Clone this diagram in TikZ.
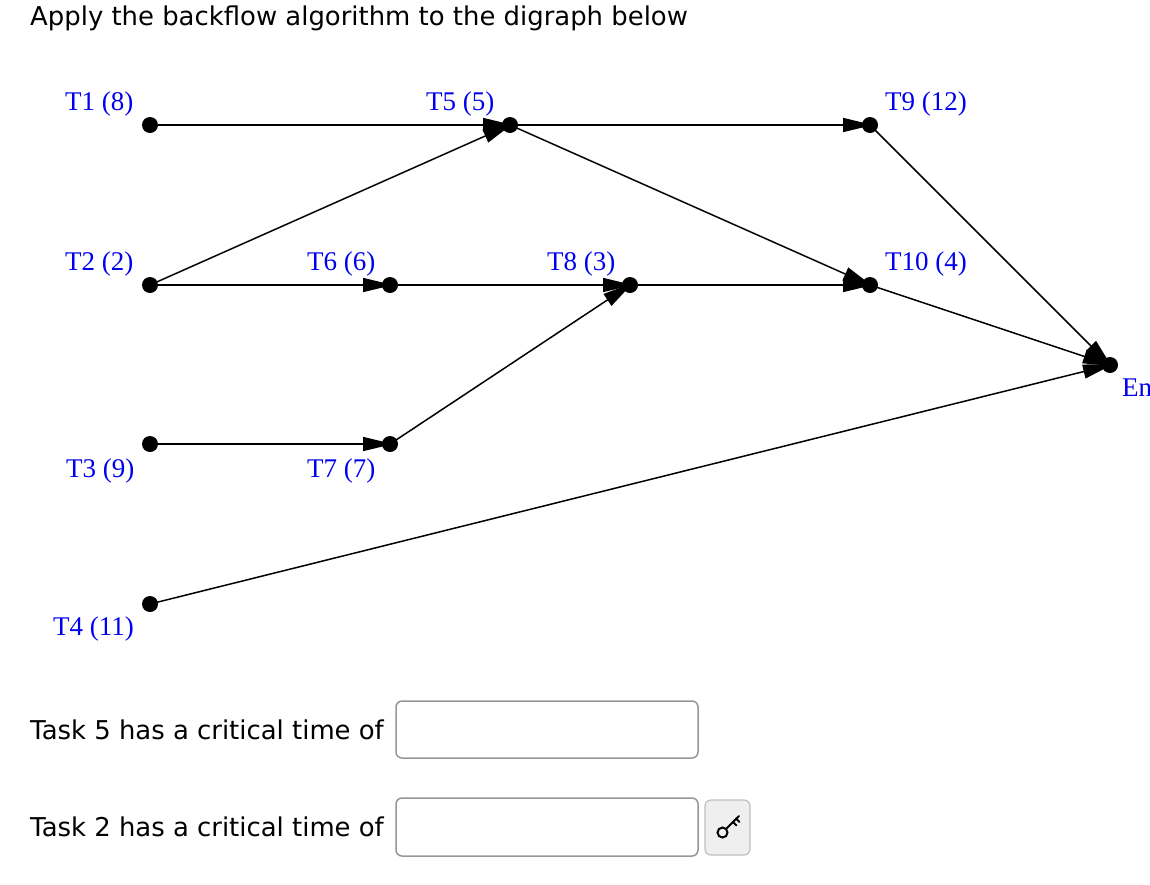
\documentclass[tikz,border=0pt]{standalone}
\usepackage{fontspec}
\setmainfont{Liberation Serif}
\newfontfamily\uifont{DejaVu Sans}
\usetikzlibrary{arrows.meta}
\definecolor{lblblue}{RGB}{0,0,238}
\definecolor{boxgray}{RGB}{150,150,150}
\definecolor{btnfill}{RGB}{239,239,239}
\definecolor{btnborder}{RGB}{190,190,190}
\begin{document}
\begin{tikzpicture}[x=1pt,y=-1pt,
  dot/.style={circle,fill=black,inner sep=0pt,minimum size=16pt},
  lbl/.style={anchor=base west,inner sep=0pt,text=lblblue,font=\fontsize{27}{30}\selectfont},
  edge/.style={line width=1.5pt,-{Triangle[length=30pt,width=14pt]},shorten >=-3pt},
  ui/.style={anchor=base west,inner sep=0pt,font=\uifont\fontsize{25.9}{30}\selectfont},
  inbox/.style={draw=boxgray,line width=1.5pt,rounded corners=6pt}]
\useasboundingbox (0,0) rectangle (1150,884);
% positions
\coordinate (T1) at (150,125);
\coordinate (T5) at (510,125);
\coordinate (T9) at (870,125);
\coordinate (T2) at (150,285);
\coordinate (T6) at (390,285);
\coordinate (T8) at (630,285);
\coordinate (T10) at (870,285);
\coordinate (End) at (1110,365);
\coordinate (T3) at (150,444);
\coordinate (T7) at (390,444);
\coordinate (T4) at (150,604);
% title
\node[ui] (title) at (30,25) {Apply the backflow algorithm to the digraph below};
% edges
\draw[edge] (T1) -- (T5);
\draw[edge] (T2) -- (T5);
\draw[edge] (T5) -- (T9);
\draw[edge] (T5) -- (T10);
\draw[edge] (T2) -- (T6);
\draw[edge] (T6) -- (T8);
\draw[edge] (T8) -- (T10);
\draw[edge] (T3) -- (T7);
\draw[edge] (T7) -- (T8);
\draw[edge] (T9) -- (End);
\draw[edge] (T10) -- (End);
\draw[edge] (T4) -- (End);
% dots
\foreach \n in {T1,T5,T9,T2,T6,T8,T10,End,T3,T7,T4}
  \node[dot] (d\n) at (\n) {};
% labels
\node[lbl] (l1) at (65,110) {T1 (8)};
\node[lbl] (l5) at (426,110) {T5 (5)};
\node[lbl] (l9) at (885,110) {T9 (12)};
\node[lbl] (l2) at (65,270) {T2 (2)};
\node[lbl] (l6) at (307,270) {T6 (6)};
\node[lbl] (l8) at (547,270) {T8 (3)};
\node[lbl] (l10) at (885,270) {T10 (4)};
\node[lbl] (lEnd) at (1122,396) {End};
\node[lbl] (l3) at (66,477) {T3 (9)};
\node[lbl] (l7) at (307,477) {T7 (7)};
\node[lbl] (l4) at (53,635) {T4 (11)};
% form
\node[ui] (q1) at (30,739) {Task 5 has a critical time of};
\node[ui] (q2) at (30,836) {Task 2 has a critical time of};
\draw[inbox] (396,701) rectangle (698,758);
\draw[inbox] (396,798) rectangle (698,856);
\draw[draw=btnborder,fill=btnfill,line width=1.2pt,rounded corners=6pt] (705,800) rectangle (750,855);
% key icon
\draw[line width=2pt] (722.5,832.5) circle (5pt);
\draw[line width=2pt,line cap=round] (726.5,828.5) -- (739,816);
\draw[line width=2pt,line cap=round] (733,822) -- (736.5,825.5);
\draw[line width=2pt,line cap=round] (736,818.5) -- (739.5,822);
\end{tikzpicture}
\end{document}
